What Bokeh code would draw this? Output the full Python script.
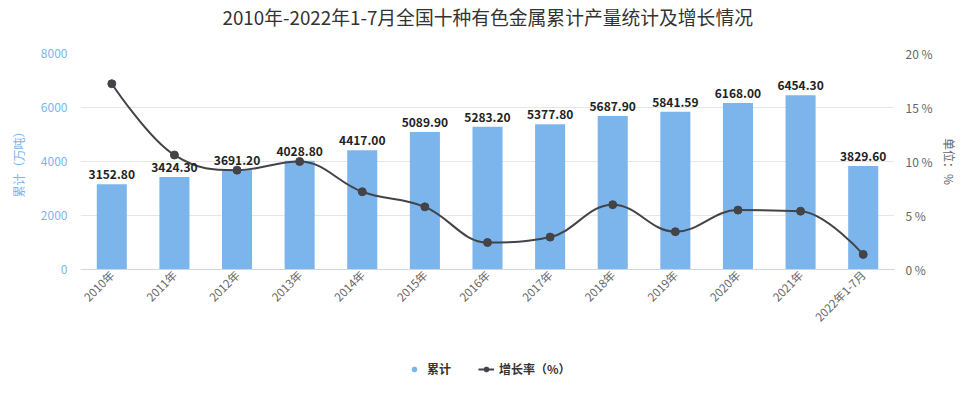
from bokeh.plotting import figure
from bokeh.layouts import column
from bokeh.models import (Range1d, LinearAxis, FixedTicker, PrintfTickFormatter,
                          ColumnDataSource, LabelSet, Legend, LegendItem, Title)
from bokeh.core.properties import value
from bokeh.embed import file_html
from bokeh.resources import INLINE
import math

categories = ["2010年", "2011年", "2012年", "2013年", "2014年", "2015年", "2016年",
              "2017年", "2018年", "2019年", "2020年", "2021年", "2022年1-7月"]
output_total = [3152.80, 3424.30, 3691.20, 4028.80, 4417.00, 5089.90, 5283.20,
                5377.80, 5687.90, 5841.59, 6168.00, 6454.30, 3829.60]
growth_rate = [17.2, 10.6, 9.2, 10.0, 7.2, 5.8, 2.5, 3.0, 6.0, 3.5, 5.5, 5.4, 1.4]
left_ticks = [0, 2000, 4000, 6000, 8000]
right_ticks = [0, 5, 10, 15, 20]

FONT = "Noto Sans CJK SC"
BAR_COLOR = "#7cb5ec"
LINE_COLOR = "#434348"

xs = list(range(len(categories)))

p = figure(width=962, height=351, output_backend="svg", toolbar_location=None,
           title=None,
           x_range=Range1d(-0.5, len(categories) - 0.5), y_range=Range1d(0, 8000),
           min_border_left=80, min_border_right=68, min_border_top=45,
           min_border_bottom=82)
p.outline_line_color = None
p.background_fill_color = "white"
p.border_fill_color = "white"

# spacer between title and plot area, then the title itself
p.add_layout(Title(text=" ", text_font=FONT, text_font_size="12px",
                   standoff=5, text_color="white"), "above")
p.add_layout(Title(text="2010年-2022年1-7月全国十种有色金属累计产量统计及增长情况",
                   align="left", offset=142, text_font=FONT,
                   text_font_size="18.8px", text_font_style="normal",
                   text_color="#333333", standoff=0), "above")

p.extra_y_ranges = {"pct": Range1d(0, 20)}

# bars
src = ColumnDataSource(dict(x=xs, top=output_total,
                            lbl=[f"{v:.2f}" for v in output_total]))
p.vbar(x="x", top="top", width=0.48, source=src, fill_color=BAR_COLOR,
       line_color=None)
labels = LabelSet(x="x", y="top", text="lbl", source=src, text_align="center",
                  text_baseline="bottom", y_offset=5, text_font=value(FONT),
                  text_font_size="12px", text_font_style="bold",
                  text_color="#222222")
p.add_layout(labels)

# Highcharts-style spline control points
n = len(growth_rate)
lcx = list(map(float, xs)); lcy = list(growth_rate)
rcx = list(map(float, xs)); rcy = list(growth_rate)
sm, den = 1.5, 2.5
for i in range(1, n - 1):
    x, y = xs[i], growth_rate[i]
    lx, ly = xs[i - 1], growth_rate[i - 1]
    nx, ny = xs[i + 1], growth_rate[i + 1]
    a = (sm * x + lx) / den; b = (sm * y + ly) / den
    c = (sm * x + nx) / den; d = (sm * y + ny) / den
    corr = ((d - b) * (c - x)) / (c - a) + y - d
    b += corr; d += corr
    if b > ly and b > y:
        b = max(ly, y); d = 2 * y - b
    elif b < ly and b < y:
        b = min(ly, y); d = 2 * y - b
    if d > ny and d > y:
        d = max(ny, y); b = 2 * y - d
    elif d < ny and d < y:
        d = min(ny, y); b = 2 * y - d
    lcx[i], lcy[i], rcx[i], rcy[i] = a, b, c, d

bz = ColumnDataSource(dict(
    x0=xs[:-1], y0=growth_rate[:-1], x1=xs[1:], y1=growth_rate[1:],
    cx0=rcx[:-1], cy0=rcy[:-1], cx1=lcx[1:], cy1=lcy[1:]))
p.bezier(x0="x0", y0="y0", x1="x1", y1="y1", cx0="cx0", cy0="cy0",
         cx1="cx1", cy1="cy1", source=bz, line_color=LINE_COLOR, line_width=2,
         y_range_name="pct")
p.scatter(xs, growth_rate, size=8, marker="circle", fill_color=LINE_COLOR,
          line_color=LINE_COLOR, y_range_name="pct")

# axes
p.xaxis.ticker = FixedTicker(ticks=xs)
p.xaxis.major_label_overrides = {i: c for i, c in enumerate(categories)}
p.xaxis.major_label_orientation = math.pi / 4
p.xaxis.major_label_text_font = FONT
p.xaxis.major_label_text_font_size = "11.5px"
p.xaxis.major_label_text_color = "#666666"
p.xaxis.axis_line_color = "#ccd6eb"
p.xaxis.major_tick_line_color = None
p.xaxis.minor_tick_line_color = None
p.xaxis.major_tick_out = 0
p.xaxis.minor_tick_out = 0
p.xaxis.major_label_standoff = 3
p.xgrid.visible = False

p.yaxis.ticker = FixedTicker(ticks=left_ticks)
p.yaxis.axis_label = "累计（万吨）"
p.yaxis.axis_label_text_font = FONT
p.yaxis.axis_label_text_font_size = "12px"
p.yaxis.axis_label_text_font_style = "normal"
p.yaxis.axis_label_text_color = BAR_COLOR
p.yaxis.major_label_text_font = FONT
p.yaxis.major_label_text_font_size = "12px"
p.yaxis.major_label_text_color = BAR_COLOR
p.yaxis.axis_line_color = None
p.yaxis.major_tick_line_color = None
p.yaxis.minor_tick_line_color = None
p.yaxis.major_tick_out = 0
p.yaxis.minor_tick_out = 0
p.yaxis.major_label_standoff = 13
p.yaxis.axis_label_standoff = 11
p.ygrid.grid_line_color = "#e6e6e6"

ra = LinearAxis(y_range_name="pct", ticker=FixedTicker(ticks=right_ticks),
                formatter=PrintfTickFormatter(format="%d %%"),
                axis_label="单位：%", axis_label_text_font=FONT,
                axis_label_text_font_size="12px", axis_label_text_font_style="normal",
                axis_label_text_color="#666666", major_label_text_font=FONT,
                major_label_text_font_size="12px", major_label_text_color="#666666",
                axis_line_color=None, major_tick_line_color=None,
                minor_tick_line_color=None, major_tick_out=0, minor_tick_out=0,
                major_label_standoff=11, axis_label_standoff=5)
p.add_layout(ra, "right")

# legend strip (separate small figure)
lg = figure(width=962, height=33, output_backend="svg", toolbar_location=None,
            x_range=Range1d(0, 1), y_range=Range1d(0, 1),
            min_border=0, x_axis_location=None, y_axis_location=None)
lg.outline_line_color = None
lg.grid.visible = False
d_bar = lg.scatter([0], [-9999], size=12, marker="circle", fill_color=BAR_COLOR,
                   line_color=BAR_COLOR)
d_line = lg.line([0, 1], [-9999, -9999], line_color=LINE_COLOR, line_width=2)
d_pt = lg.scatter([0], [-9999], size=8, marker="circle", fill_color=LINE_COLOR,
                  line_color=LINE_COLOR)
legend = Legend(items=[LegendItem(label="累计", renderers=[d_bar]),
                       LegendItem(label="增长率（%）", renderers=[d_line, d_pt])],
                orientation="horizontal", location=(326, 7),
                label_text_font=FONT, label_text_font_size="12px",
                label_text_font_style="bold", label_text_color="#333333",
                border_line_color=None, background_fill_alpha=0,
                glyph_width=16, glyph_height=12, label_standoff=5,
                spacing=27, margin=0, padding=4)
lg.add_layout(legend, "center")

open("out.html", "w").write(file_html(column(p, lg, spacing=0), INLINE))
